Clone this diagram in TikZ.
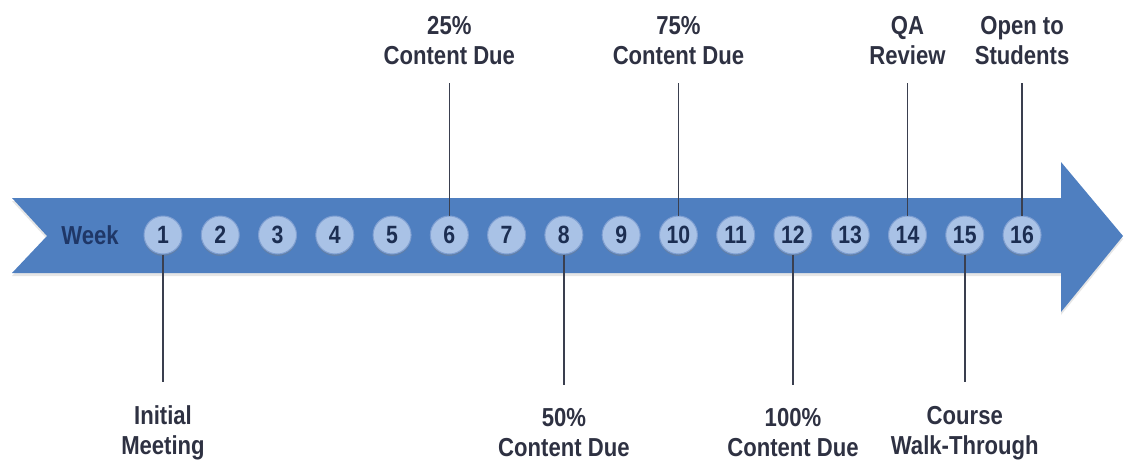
\documentclass[tikz,border=0pt]{standalone}
\usepackage{fontspec}
\setmainfont{Liberation Sans}[FakeStretch=0.85]
\usetikzlibrary{shadows}

\definecolor{arrowblue}{HTML}{4F7FC0}
\definecolor{dotblue}{HTML}{A9C2E6}
\definecolor{dotrim}{HTML}{7F9FD2}
\definecolor{numnavy}{HTML}{1C2E52}
\definecolor{weeknavy}{HTML}{1F3767}
\definecolor{labelgray}{HTML}{2E3142}
\definecolor{linegray}{HTML}{3A3F4F}

\tikzset{
	weekdot/.style={circle, minimum size=38pt, inner sep=0pt, fill=dotblue, draw=dotrim, line width=1pt,
		text=numnavy, font=\bfseries\fontsize{25}{25}\selectfont,
		drop shadow={opacity=0.35, shadow xshift=0pt, shadow yshift=-2pt}},
	milestone/.style={align=center, inner sep=0pt, text=labelgray, font=\bfseries\fontsize{26}{30}\selectfont},
	tick/.style={draw=linegray, line width=1.5pt}
}

\begin{document}
\begin{tikzpicture}[x=1pt, y=-1pt]
	\useasboundingbox (0,0) rectangle (1124,464);
	% the big arrow
	\fill[arrowblue, drop shadow={opacity=0.2, shadow xshift=0pt, shadow yshift=-3pt}]
		(12,198) -- (1061,198) -- (1061,162) -- (1123,236) -- (1061,312) -- (1061,273) -- (12,273) -- (47,236) -- cycle;
	\node[text=weeknavy, font=\bfseries\fontsize{26}{26}\selectfont] (week) at (90,235) {Week};
	\foreach \n in {1,...,16}
		\node[weekdot] (w\n) at ({163+(\n-1)*57.27},235) {\n};
	\coordinate (toprow) at (0,41);
	\coordinate (botrow) at (0,433);
	% milestones above
	\node[milestone] (m6) at (w6 |- toprow) {25\%\\Content Due};
	\node[milestone] (m10) at (w10 |- toprow) {75\%\\Content Due};
	\node[milestone] (m14) at (w14 |- toprow) {QA\\Review};
	\node[milestone] (m16) at (w16 |- toprow) {Open to\\Students};
	% milestones below
	\node[milestone] (m1) at (w1 |- botrow) {Initial\\Meeting};
	\node[milestone] (m8) at (w8 |- botrow) {50\%\\Content Due};
	\node[milestone] (m12) at (w12 |- botrow) {100\%\\Content Due};
	\node[milestone] (m15) at (w15 |- botrow) {Course\\Walk-Through};
	\foreach \n in {6,10,14,16}
		\draw[tick, shorten >=18pt] (w\n) -- (m\n);
	\foreach \n in {1,8,12,15}
		\draw[tick, shorten >=24pt] (w\n) -- (m\n);
\end{tikzpicture}
\end{document}
